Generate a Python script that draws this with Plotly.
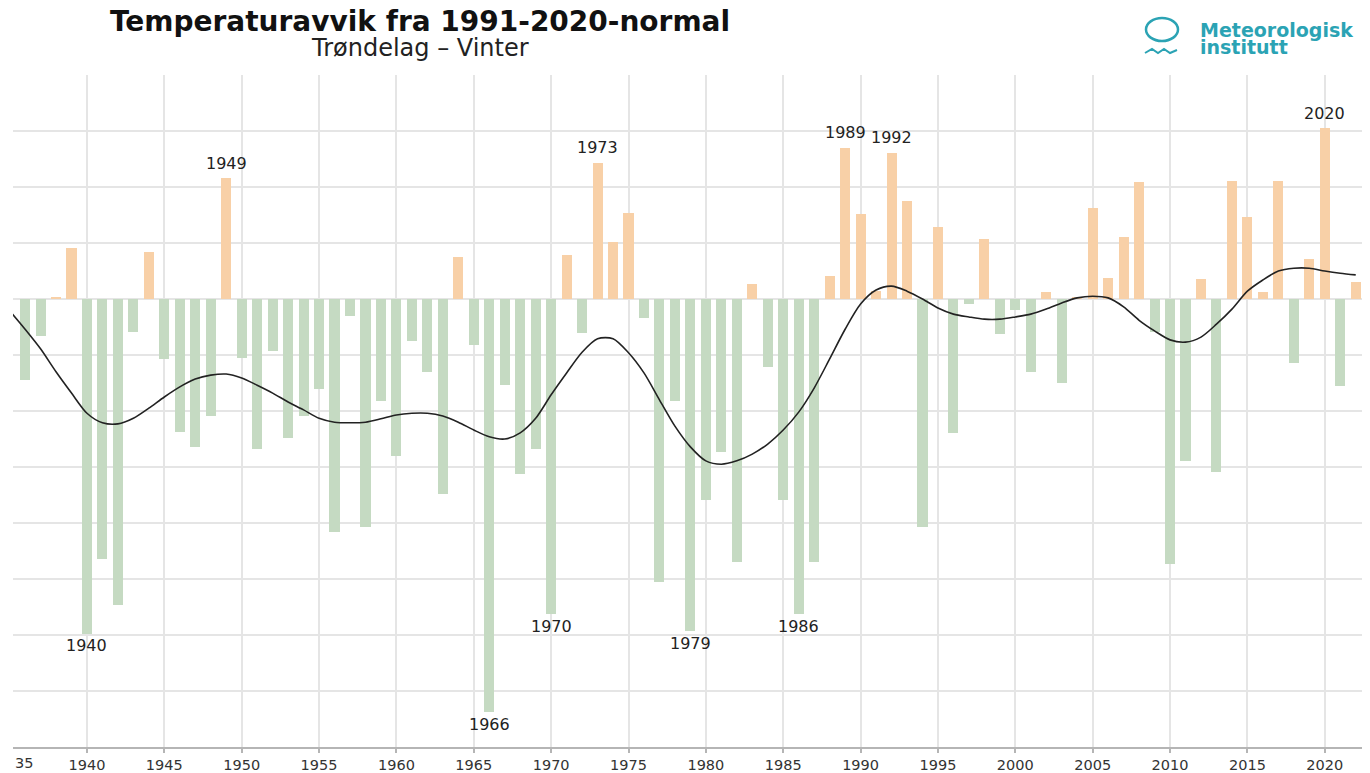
import plotly.graph_objects as go

# ---------------- data ----------------
years = list(range(1936, 2023))
anomaly = [
    -1.45, -0.66, 0.03, 0.91,                                  # 1936-1939
    -5.98, -4.64, -5.46, -0.59, 0.84, -1.07, -2.38, -2.64, -2.09, 2.16,   # 1940-1949
    -1.05, -2.68, -0.93, -2.48, -2.09, -1.61, -4.16, -0.30, -4.07, -1.82, # 1950-1959
    -2.80, -0.75, -1.31, -3.48, 0.75, -0.82, -7.38, -1.54, -3.13, -2.68,  # 1960-1969
    -5.63, 0.79, -0.61, 2.43, 1.02, 1.54, -0.34, -5.05, -1.82, -5.93,     # 1970-1979
    -3.59, -2.73, -4.70, 0.27, -1.21, -3.59, -5.63, -4.70, 0.41, 2.70,    # 1980-1989
    1.52, 0.14, 2.61, 1.75, -4.07, 1.29, -2.39, -0.09, 1.07, -0.63,       # 1990-1999
    -0.20, -1.31, 0.13, -1.50, 0.02, 1.62, 0.37, 1.11, 2.09, -0.59,       # 2000-2009
    -4.73, -2.89, 0.36, -3.09, 2.11, 1.46, 0.13, 2.11, -1.14, 0.71,       # 2010-2019
    3.05, -1.55, 0.30,                                          # 2020-2022
]

smooth_years = list(range(1935, 2023))
smooth = [
    -0.21, -0.54, -0.89, -1.30, -1.68,                          # 1935-1939
    -2.04, -2.21, -2.23, -2.13, -1.95, -1.75, -1.57, -1.43, -1.36, -1.34, # 1940-1949
    -1.41, -1.54, -1.68, -1.84, -1.98, -2.13, -2.20, -2.21, -2.20, -2.14, # 1950-1959
    -2.07, -2.04, -2.04, -2.09, -2.20, -2.34, -2.46, -2.50, -2.39, -2.13, # 1960-1969
    -1.71, -1.32, -0.95, -0.71, -0.71, -0.96, -1.32, -1.80, -2.27, -2.64, # 1970-1979
    -2.89, -2.95, -2.89, -2.77, -2.59, -2.34, -2.02, -1.59, -1.07, -0.54, # 1980-1989
    -0.09, 0.16, 0.23, 0.14, 0.00, -0.16, -0.27, -0.32, -0.36, -0.36,     # 1990-1999
    -0.32, -0.27, -0.18, -0.07, 0.02, 0.05, 0.02, -0.14, -0.38, -0.57,    # 2000-2009
    -0.73, -0.77, -0.68, -0.45, -0.18, 0.14, 0.34, 0.50, 0.55, 0.55,      # 2010-2019
    0.50, 0.46, 0.43,                                           # 2020-2022
]

labeled_years = [1940, 1949, 1966, 1970, 1973, 1979, 1986, 1989, 1992, 2020]
tick_years = list(range(1940, 2021, 5))
title_text = "Temperaturavvik fra 1991-2020-normal"
subtitle_text = "Trøndelag – Vinter"
logo_lines = ["Meteorologisk", "institutt"]

# ---------------- layout geometry ----------------
W, H = 1370, 773
OFF = 8  # page body margin that shifts the figure inside the window
# target plot box in window pixels
PL, PR, PT, PB = 13, 1365, 75, 747
ML = PL - OFF
MT = PT - OFF
MR = W - (PR - OFF)
MB = H - (PB - OFF)
PW, PH = PR - PL, PB - PT
X_RANGE = [1935.22, 2022.6]
Y_RANGE = [-8, 4]
WARM = "#f8d0a7"
COLD = "#c5dac2"
TEAL = "#2ba3b4"
GRID = "#e5e5e5"
FONT = "DejaVu Sans"


def px_x(p):
    """window pixel x -> paper x"""
    return (p - PL) / PW


def px_y(p):
    """window pixel y -> paper y"""
    return (PB - p) / PH


colors = [WARM if v > 0 else COLD for v in anomaly]

fig = go.Figure()
fig.add_trace(go.Bar(x=years, y=anomaly, marker=dict(color=colors, line=dict(width=0)),
                     width=0.65, hoverinfo="x+y", showlegend=False))
fig.add_trace(go.Scatter(x=smooth_years, y=smooth, mode="lines",
                         line=dict(color="#222222", width=1.6, shape="spline", smoothing=0.8),
                         hoverinfo="skip", showlegend=False))

annotations = []
for yr in labeled_years:
    v = anomaly[years.index(yr)]
    annotations.append(dict(x=yr, y=v, xref="x", yref="y", text=str(yr), showarrow=False,
                            yshift=15 if v > 0 else -12,
                            font=dict(family=FONT, size=16, color="#222222")))

# subtitle
annotations.append(dict(x=px_x(420), y=px_y(48), xref="paper", yref="paper",
                        text=subtitle_text, showarrow=False, xanchor="center", yanchor="middle",
                        font=dict(family=FONT, size=24, color="#222222")))
# logo text
annotations.append(dict(x=px_x(1198), y=px_y(29.5), xref="paper", yref="paper",
                        text="<b>" + logo_lines[0] + "</b>", showarrow=False,
                        xanchor="left", yanchor="middle",
                        font=dict(family=FONT, size=19, color=TEAL)))
annotations.append(dict(x=px_x(1198), y=px_y(46.5), xref="paper", yref="paper",
                        text="<b>" + logo_lines[1] + "</b>", showarrow=False,
                        xanchor="left", yanchor="middle",
                        font=dict(family=FONT, size=19, color=TEAL)))
# clipped first tick label at the left edge
annotations.append(dict(x=0, y=px_y(763), xref="paper", yref="paper",
                        text="35", showarrow=False, xanchor="left", yanchor="middle",
                        font=dict(family=FONT, size=14.5, color="#333333")))

shapes = []
# logo circle
shapes.append(dict(type="circle", xref="paper", yref="paper",
                   x0=px_x(1146), x1=px_x(1178), y0=px_y(41), y1=px_y(18),
                   line=dict(color=TEAL, width=2.5)))
# logo wave
wave_pts = [(1145, 53), (1152, 49), (1158, 53), (1164, 49), (1170, 53), (1177, 50)]
path = "M {} {}".format(px_x(wave_pts[0][0]), px_y(wave_pts[0][1]))
for (xp, yp) in wave_pts[1:]:
    path += " L {} {}".format(px_x(xp), px_y(yp))
shapes.append(dict(type="path", xref="paper", yref="paper", path=path,
                   line=dict(color=TEAL, width=2)))

fig.update_layout(
    width=W, height=H,
    margin=dict(l=ML, r=MR, t=MT, b=MB, pad=0, autoexpand=False),
    paper_bgcolor="white", plot_bgcolor="white",
    bargap=0,
    title=dict(text="<b>" + title_text + "</b>", x=(420 - OFF) / W, xanchor="center",
               xref="container", yref="container", y=1, yanchor="top",
               pad=dict(t=3),
               font=dict(family=FONT, size=28, color="#111111")),
    annotations=annotations,
    shapes=shapes,
    xaxis=dict(range=X_RANGE, tickmode="array", tickvals=tick_years,
               ticktext=[str(t) for t in tick_years],
               showgrid=True, gridcolor=GRID, gridwidth=2,
               showline=True, linecolor="#b5b5b5", linewidth=1.5,
               ticks="outside", ticklen=4, tickcolor="#b5b5b5", tickwidth=1.5,
               tickfont=dict(family=FONT, size=14.5, color="#333333"),
               zeroline=False, fixedrange=True),
    yaxis=dict(range=Y_RANGE, dtick=1, showticklabels=False, showgrid=True,
               gridcolor=GRID, gridwidth=1.5, zeroline=False,
               showline=True, side="right", linecolor=GRID, linewidth=1.5,
               ticks="", fixedrange=True),
    font=dict(family=FONT),
)

fig.write_html("out.html")
